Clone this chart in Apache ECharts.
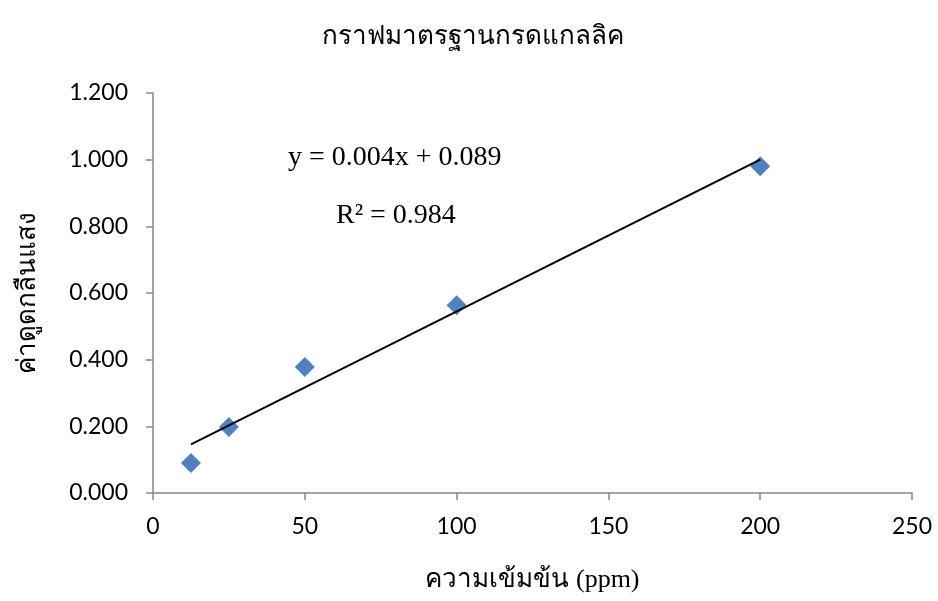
<!DOCTYPE html>
<html><head><meta charset="utf-8">
<script src="https://cdn.jsdelivr.net/npm/echarts@6/dist/echarts.min.js"></script>
<style>html,body{margin:0;padding:0;background:#fff}#c{width:938px;height:601px}</style>
</head><body><div id="c"></div>
<script>
const titleText = 'กราฟมาตรฐานกรดแกลลิค';
const xAxisName = 'ความเข้มข้น (ppm)';
const yAxisName = 'ค่าดูดกลืนแสง';
const concentrations = [12.5, 25, 50, 100, 200];
const absorbances = [0.090, 0.198, 0.378, 0.563, 0.980];
const trendX = [12.5, 200];
const trendY = [0.146, 1.000];
const equationText = 'y = 0.004x + 0.089';
const r2Text = 'R² = 0.984';

const chart = echarts.init(document.getElementById('c'));
const axisColor = '#868686';
const tickFont = {fontFamily: 'Lato, "Open Sans", sans-serif', fontSize: 23, color: '#000'};
chart.setOption({
  animation: false,
  backgroundColor: '#fff',
  title: {text: titleText, left: 468, top: 19, textAlign: 'center',
    textStyle: {fontFamily: '"Noto Sans", sans-serif', fontSize: 26, fontWeight: 'normal', color: '#000'}},
  grid: {left: 153, right: 26, top: 93, bottom: 108},
  xAxis: {type: 'value', min: 0, max: 250, interval: 50,
    name: xAxisName, nameLocation: 'middle', nameGap: 74,
    nameTextStyle: {fontFamily: '"Liberation Serif", "Noto Sans", serif', fontSize: 26, color: '#000'},
    axisLine: {lineStyle: {color: axisColor, width: 1.5}},
    axisTick: {show: true, length: 7, lineStyle: {color: axisColor, width: 1.5}},
    splitLine: {show: false},
    axisLabel: Object.assign({margin: 22}, tickFont)},
  yAxis: {type: 'value', min: 0, max: 1.2, interval: 0.2,
    name: yAxisName, nameLocation: 'middle', nameGap: 112, nameRotate: 90,
    nameTextStyle: {fontFamily: '"Noto Sans", sans-serif', fontSize: 26, color: '#000'},
    axisLine: {show: true, lineStyle: {color: axisColor, width: 1.5}},
    axisTick: {show: true, length: 7, lineStyle: {color: axisColor, width: 1.5}},
    splitLine: {show: false},
    axisLabel: Object.assign({margin: 25, formatter: v => v.toFixed(3)}, tickFont)},
  series: [
    {type: 'line', data: trendX.map((x, i) => [x, trendY[i]]), symbol: 'none',
      lineStyle: {color: '#000', width: 2}, z: 3},
    {type: 'scatter', data: concentrations.map((x, i) => [x, absorbances[i]]),
      symbol: 'diamond', symbolSize: [20, 20], itemStyle: {color: '#4F81BD', opacity: 1}, z: 2}
  ],
  graphic: [
    {type: 'text', left: 288, top: 144, style: {text: equationText, font: '28px "Liberation Serif", serif', fill: '#000'}},
    {type: 'text', left: 336, top: 202, style: {text: r2Text, font: '28px "Liberation Serif", serif', fill: '#000'}}
  ]
});
</script></body></html>
